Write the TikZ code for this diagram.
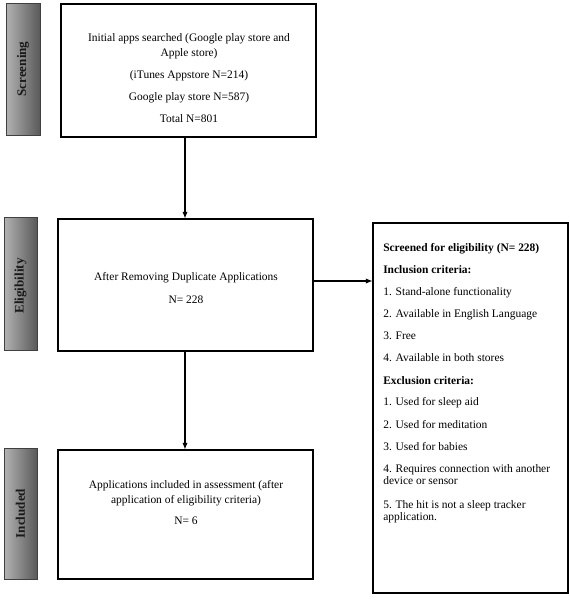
\documentclass[tikz,border=0pt]{standalone}
\usepackage{fontspec}
\setmainfont{Liberation Serif}
\usetikzlibrary{arrows.meta}
\tikzset{
  stage/.style={draw=black!75, line width=0.6pt, left color=black!30, right color=black!65, minimum width=0.75pt*33, inner sep=0pt},
  stagetext/.style={rotate=90, font=\fontsize{9.8}{10}\selectfont\bfseries, text=black!90},
  box/.style={draw=black, line width=0.8pt, fill=white, inner sep=0pt},
  txt/.style={font=\fontsize{8.6}{11.25}\selectfont, align=center, inner sep=0pt},
  ltxt/.style={font=\fontsize{8.6}{9}\selectfont, align=left, inner sep=0pt, anchor=north west},
  arr/.style={line width=0.8pt, -{Latex[length=5pt,width=4pt]}}
}
\begin{document}
\begin{tikzpicture}[x=0.75pt,y=-0.75pt]
\path[fill=white, use as bounding box] (0,0) rectangle (570,600);
% stage labels
\path[stage] (6,3) rectangle (40,135);
\node[stagetext] (s1) at (23,69) {Screening};
\path[stage] (4,217) rectangle (37,350);
\node[stagetext] (s2) at (20.5,286) {Eligibility};
\path[stage] (4,448) rectangle (37,579);
\node[stagetext] (s3) at (20.5,513.5) {Included};
% boxes
\node[box, minimum width=0.75pt*255, minimum height=0.75pt*133] (b1) at (188.5,70.5) {};
\node[box, minimum width=0.75pt*255, minimum height=0.75pt*132] (b2) at (185.5,285) {};
\node[box, minimum width=0.75pt*255, minimum height=0.75pt*129] (b3) at (185.5,514.5) {};
\node[box, minimum width=0.75pt*195, minimum height=0.75pt*370] (b4) at (470.5,408) {};
% texts
\node[txt] (t1) at (189,78) {Initial apps searched (Google play store and\\Apple store)\\[5.25pt](iTunes Appstore N=214)\\[5.25pt]Google play store N=587)\\[5.25pt]Total N=801};
\node[txt] (t2) at (186,288) {After Removing Duplicate Applications\\[5.75pt]N= 228};
\node[txt] (t3) at (186,503) {Applications included in assessment (after\\application of eligibility criteria)\\[4.5pt]N= 6};
\node[ltxt] (t4) at (383,243) {\textbf{Screened for eligibility (N= 228)}\\[7.9pt]\textbf{Inclusion criteria:}\\[7pt]1. Stand-alone functionality\\[7.5pt]2. Available in English Language\\[7.9pt]3. Free\\[7.5pt]4. Available in both stores\\[7.9pt]\textbf{Exclusion criteria:}\\[7pt]1. Used for sleep aid\\[7.9pt]2. Used for meditation\\[7.5pt]3. Used for babies\\[7.9pt]4. Requires connection with another\\device or sensor\\[8.5pt]5. The hit is not a sleep tracker\\application.};
% arrows
\draw[arr] (b1.south -| 185,0) -- (b2.north -| 185,0);
\draw[arr] (b2.south -| 185,0) -- (b3.north -| 185,0);
\draw[arr] (b2.east |- 0,281) -- (b4.west |- 0,281);
\end{tikzpicture}
\end{document}
